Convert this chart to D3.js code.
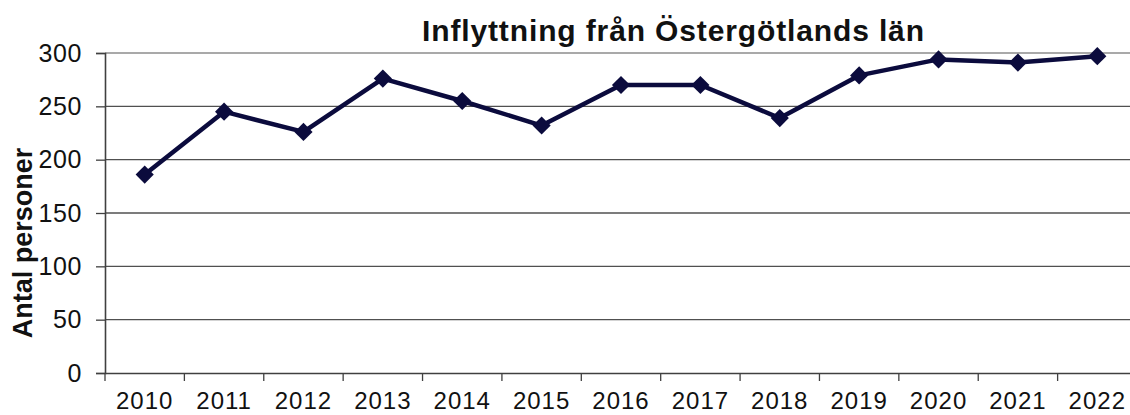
<!DOCTYPE html>
<html><head><meta charset="utf-8">
<script src="https://cdn.jsdelivr.net/npm/d3@7"></script>
<style>body{margin:0;background:#fff}svg{display:block}text{font-family:"Liberation Sans",Arial,sans-serif}</style>
</head><body>
<svg id="c" width="1130" height="415"></svg>
<script>
const years = ["2010","2011","2012","2013","2014","2015","2016","2017","2018","2019","2020","2021","2022"];
const values = [186, 245, 226, 276, 255, 232, 270, 270, 239, 279, 294, 291, 297];
const yTicks = [0, 50, 100, 150, 200, 250, 300];
const title = "Inflyttning från Östergötlands län";
const yLabel = "Antal personer";

const svg = d3.select("#c");
const mLeft = 105, mRight = 1137, mTop = 53, mBottom = 373;
const x = d3.scaleBand().domain(years).range([mLeft, mRight]).padding(0);
const y = d3.scaleLinear().domain([0, 300]).range([mBottom, mTop]);

// gridlines
svg.append("g").selectAll("line").data(yTicks.filter(d => d > 0)).join("line")
  .attr("x1", mLeft).attr("x2", mRight)
  .attr("y1", d => y(d)).attr("y2", d => y(d))
  .attr("stroke", d => d === 300 ? "#8c8c8c" : "#505050").attr("stroke-width", 1.3);

// y axis
const ya = svg.append("g").attr("transform", `translate(${mLeft},0)`)
  .call(d3.axisLeft(y).tickValues(yTicks).tickSize(9).tickPadding(14));
ya.select(".domain").attr("stroke", "#404040").attr("stroke-width", 1.6);
ya.selectAll(".tick line").attr("stroke", "#404040").attr("stroke-width", 1.3);
ya.selectAll(".tick text").attr("font-size", 25).attr("fill", "#111").attr("font-family", "Liberation Sans, Arial, sans-serif").attr("letter-spacing", 0.6);

// x axis
const xa = svg.append("g").attr("transform", `translate(0,${mBottom})`)
  .call(d3.axisBottom(x).tickSize(0).tickPadding(19));
xa.select(".domain").attr("stroke", "#404040").attr("stroke-width", 1.6);
xa.selectAll(".tick text").attr("font-size", 24).attr("fill", "#111").attr("font-family", "Liberation Sans, Arial, sans-serif").attr("letter-spacing", 1);
// boundary ticks
svg.append("g").selectAll("line").data(years).join("line")
  .attr("x1", d => x(d)).attr("x2", d => x(d))
  .attr("y1", mBottom).attr("y2", mBottom + 8)
  .attr("stroke", "#404040").attr("stroke-width", 1.3);

// line
const pts = years.map((d, i) => [x(d) + x.bandwidth() / 2, y(values[i])]);
svg.append("path").attr("d", d3.line()(pts))
  .attr("fill", "none").attr("stroke", "#0b0b3d").attr("stroke-width", 4.5).attr("stroke-linejoin", "round");
svg.append("g").selectAll("path").data(pts).join("path")
  .attr("d", d3.symbol(d3.symbolSquare, 165)())
  .attr("transform", d => `translate(${d[0]},${d[1]}) rotate(45)`)
  .attr("fill", "#0b0b3d");

// title
svg.append("text").attr("x", 673).attr("y", 40.5).attr("text-anchor", "middle")
  .attr("font-size", 30).attr("font-weight", "bold").attr("fill", "#111")
  .attr("textLength", 502).attr("lengthAdjust", "spacing").text(title);

// y label
svg.append("text").attr("transform", "translate(32,243) rotate(-90)").attr("text-anchor", "middle")
  .attr("font-size", 27).attr("font-weight", "bold").attr("fill", "#111").text(yLabel);
</script>
</body></html>
